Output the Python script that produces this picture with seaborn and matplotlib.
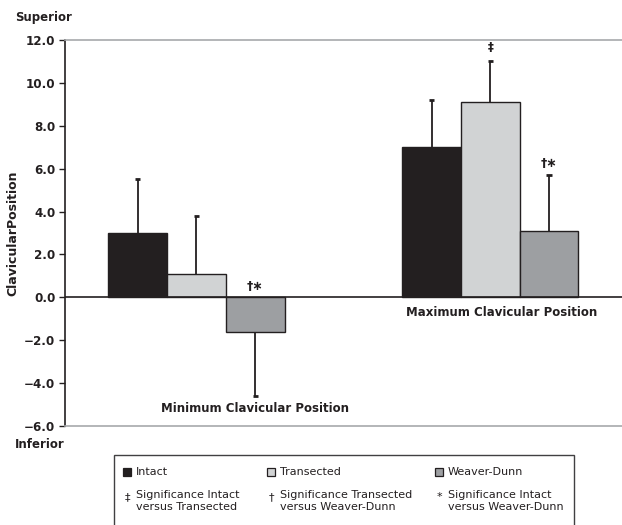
import numpy as np
import pandas as pd
import matplotlib
matplotlib.use("Agg")
import matplotlib.pyplot as plt
import seaborn as sns
from matplotlib.patches import Rectangle

groups = ["Minimum Clavicular Position", "Maximum Clavicular Position"]
conditions = ["Intact", "Transected", "Weaver-Dunn"]
means_min = [3.0, 1.1, -1.6]
means_max = [7.0, 9.1, 3.1]
err_min = [2.5, 2.7, 3.0]
err_max = [2.2, 1.9, 2.6]
yticks = [12.0, 10.0, 8.0, 6.0, 4.0, 2.0, 0.0, -2.0, -4.0, -6.0]
colors = ["#231f20", "#d1d3d4", "#9d9fa2"]
edge = "#231f20"

df = pd.DataFrame({
    "group": [groups[0]] * 3 + [groups[1]] * 3,
    "cond": conditions * 2,
    "value": means_min + means_max,
    "err": err_min + err_max,
})

sns.set_theme(style="white")
plt.rcParams["font.family"] = ["DejaVu Sans"]

fig = plt.figure(figsize=(6.22, 5.25), dpi=100)
ax = fig.add_axes([65 / 622, 1 - 426 / 525, 1 - 65 / 622, (426 - 40) / 525])

sns.barplot(data=df, x="group", y="value", hue="cond", order=groups,
            hue_order=conditions, palette=colors, width=0.6, errorbar=None,
            edgecolor=edge, linewidth=1.0, saturation=1, legend=False, ax=ax)

# error bars (one-sided, away from zero), cap only at the far end
cap_half = 0.009
for i, c in enumerate(conditions):
    cont = ax.containers[i]
    for j, g in enumerate(groups):
        p = cont.patches[j]
        xc = p.get_x() + p.get_width() / 2
        row = df[(df.group == g) & (df.cond == c)].iloc[0]
        v, e = row.value, row.err
        end = v + e if v >= 0 else v - e
        ax.vlines(xc, v, end, color=edge, lw=1.3, zorder=3)
        ax.hlines(end, xc - cap_half, xc + cap_half, color=edge, lw=2.0,
                  zorder=3)

# significance symbols
def bar_center(ci, gi):
    p = ax.containers[ci].patches[gi]
    return p.get_x() + p.get_width() / 2

ax.text(bar_center(1, 1), 11.35, "‡", ha="center", va="bottom", fontsize=8.5,
        fontweight="bold", color=edge)
ax.text(bar_center(2, 1), 5.95, "†∗", ha="center", va="bottom", fontsize=9,
        fontweight="bold", color=edge)
ax.text(bar_center(2, 0), 0.2, "†∗", ha="center", va="bottom", fontsize=9,
        fontweight="bold", color=edge)

# group labels
ax.text(0.2, -5.2, groups[0], ha="center", va="center", fontsize=8.5,
        fontweight="bold", color="#231f20")
ax.text(1.04, -0.7, groups[1], ha="center", va="center", fontsize=8.5,
        fontweight="bold", color="#231f20")

ax.axhline(0, color=edge, lw=1.2, zorder=1)
ax.set_ylim(-6, 12)
ax.set_xlim(-0.447, 1.448)
ax.set_yticks(yticks)
ax.set_yticklabels([f"{t:.1f}".replace("-", "\u2212") for t in yticks],
                   fontsize=8.6, fontweight="bold", color="#231f20")
ax.set_xticks([])
ax.set_xlabel("")
ax.set_ylabel("ClavicularPosition", fontsize=9, fontweight="bold",
              color="#231f20", labelpad=3)
ax.tick_params(axis="y", direction="out", length=4, width=1, color="#231f20",
               left=True, pad=3)
for s in ["top", "bottom"]:
    ax.spines[s].set_color("#a7a9ac")
    ax.spines[s].set_linewidth(1.2)
ax.spines["right"].set_visible(False)
ax.spines["left"].set_color("#231f20")
ax.spines["left"].set_linewidth(1.2)

fig.text(15 / 622, 1 - 18 / 525, "Superior", fontsize=8.5, fontweight="bold",
         va="center", ha="left", color="#231f20")
fig.text(15 / 622, 1 - 445 / 525, "Inferior", fontsize=8.5, fontweight="bold",
         va="center", ha="left", color="#231f20")

# legend box
fig.patches.append(Rectangle((114 / 622, -0.05), (574 - 114) / 622,
                             1 - 455 / 525 + 0.05, transform=fig.transFigure,
                             fill=False, edgecolor="#414042", lw=1.0))
col_x = [127, 271, 439]
for cx, lab, col in zip(col_x, conditions, colors):
    fig.patches.append(Rectangle(((cx - 4) / 622, 1 - 476 / 525), 8 / 622,
                                 8 / 525, transform=fig.transFigure,
                                 facecolor=col, edgecolor=edge, lw=0.9))
    fig.text((cx + 9) / 622, 1 - 472 / 525, lab, fontsize=8, va="center",
             ha="left", color="#231f20")
sig_sym = ["‡", "†", "*"]
sig_lab = ["Significance Intact\nversus Transected",
           "Significance Transected\nversus Weaver-Dunn",
           "Significance Intact\nversus Weaver-Dunn"]
for cx, sym, lab in zip(col_x, sig_sym, sig_lab):
    fig.text(cx / 622, 1 - 497 / 525, sym, fontsize=8, va="center",
             ha="center", color="#231f20")
    fig.text((cx + 9) / 622, 1 - 490 / 525, lab, fontsize=8, va="top",
             ha="left", color="#231f20", linespacing=1.2)

fig.savefig("out.png", dpi=100)
